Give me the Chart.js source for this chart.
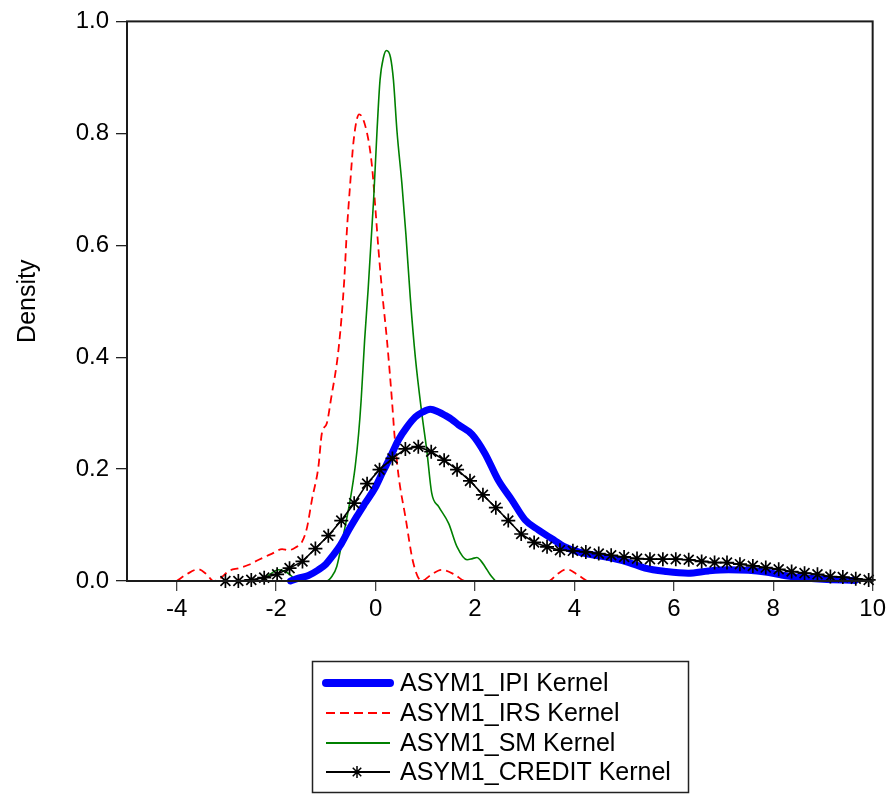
<!DOCTYPE html>
<html>
<head>
<meta charset="utf-8">
<script src="https://cdn.jsdelivr.net/npm/chart.js@4"></script>
<style>
  html, body { margin: 0; padding: 0; background: #fff; }
</style>
</head>
<body>
<canvas id="kernelChart" width="890" height="795"></canvas>
<script>
// kernel density estimates
const ipiX = [-1.71, -1.55, -1.35, -1.15, -1.0, -0.88, -0.7, -0.54, -0.38, -0.21, 0.0, 0.13, 0.3, 0.46, 0.63, 0.8, 0.95, 1.1, 1.27, 1.4, 1.53, 1.67, 1.94, 2.2, 2.47, 2.74, 3.01, 3.28, 3.54, 3.81, 4.08, 4.42, 4.75, 5.1, 5.42, 5.85, 6.29, 6.7, 7.1, 7.5, 7.84, 8.15, 8.45, 9.0, 9.65];
const ipiY = [0.0, 0.005, 0.01, 0.02, 0.03, 0.043, 0.065, 0.091, 0.115, 0.139, 0.168, 0.192, 0.222, 0.252, 0.275, 0.293, 0.302, 0.307, 0.302, 0.296, 0.289, 0.279, 0.262, 0.228, 0.18, 0.145, 0.109, 0.091, 0.076, 0.061, 0.052, 0.046, 0.041, 0.033, 0.023, 0.017, 0.014, 0.018, 0.02, 0.019, 0.016, 0.011, 0.007, 0.003, 0.001];

const irsX = [-4.0, -3.8, -3.57, -3.4, -3.26, -3.12, -2.95, -2.75, -2.55, -2.35, -2.08, -1.88, -1.75, -1.61, -1.48, -1.38, -1.28, -1.15, -1.08, -0.98, -0.9, -0.74, -0.63, -0.58, -0.51, -0.44, -0.33, -0.17, -0.07, 0.0, 0.06, 0.14, 0.23, 0.33, 0.38, 0.46, 0.6, 0.76, 0.93, 1.1, 1.33, 1.6, 1.8, 3.48, 3.65, 3.85, 4.05, 4.25];
const irsY = [0.0, 0.012, 0.021, 0.012, 0.0, 0.005, 0.018, 0.023, 0.029, 0.038, 0.049, 0.057, 0.055, 0.06, 0.07, 0.095, 0.145, 0.204, 0.264, 0.282, 0.323, 0.418, 0.537, 0.621, 0.71, 0.788, 0.834, 0.8, 0.74, 0.662, 0.591, 0.51, 0.43, 0.323, 0.262, 0.19, 0.115, 0.032, 0.0, 0.01, 0.02, 0.011, 0.0, 0.0, 0.012, 0.021, 0.012, 0.0];

const smX = [-2.29, -2.15, -1.95, -1.8, -1.68, -1.61, -0.98, -0.88, -0.78, -0.64, -0.51, -0.41, -0.34, -0.29, -0.22, -0.15, -0.04, 0.03, 0.09, 0.16, 0.22, 0.3, 0.36, 0.43, 0.53, 0.61, 0.7, 0.8, 0.93, 1.03, 1.13, 1.27, 1.47, 1.64, 1.84, 1.95, 2.04, 2.12, 2.2, 2.3, 2.41];
const smY = [0.0, 0.01, 0.02, 0.016, 0.008, 0.0, 0.0, 0.008, 0.026, 0.085, 0.145, 0.204, 0.264, 0.323, 0.43, 0.52, 0.68, 0.805, 0.895, 0.936, 0.948, 0.936, 0.895, 0.805, 0.71, 0.62, 0.505, 0.4, 0.3, 0.234, 0.157, 0.133, 0.103, 0.061, 0.038, 0.04, 0.042, 0.036, 0.026, 0.012, 0.0];

const creditX = [-3.02, -2.76, -2.5, -2.24, -1.98, -1.73, -1.47, -1.21, -0.95, -0.69, -0.43, -0.17, 0.08, 0.34, 0.6, 0.86, 1.12, 1.38, 1.64, 1.9, 2.16, 2.42, 2.67, 2.93, 3.19, 3.45, 3.71, 3.97, 4.23, 4.49, 4.74, 5.0, 5.26, 5.52, 5.78, 6.04, 6.3, 6.56, 6.82, 7.07, 7.33, 7.59, 7.85, 8.11, 8.37, 8.63, 8.89, 9.15, 9.4, 9.66, 9.92];
const creditY = [0.0, 0.0, 0.002, 0.006, 0.012, 0.023, 0.035, 0.058, 0.081, 0.108, 0.139, 0.174, 0.199, 0.219, 0.236, 0.24, 0.231, 0.216, 0.199, 0.179, 0.154, 0.131, 0.108, 0.084, 0.069, 0.061, 0.055, 0.054, 0.052, 0.049, 0.046, 0.043, 0.04, 0.039, 0.039, 0.039, 0.038, 0.035, 0.033, 0.033, 0.03, 0.027, 0.024, 0.021, 0.017, 0.014, 0.012, 0.008, 0.007, 0.004, 0.002];

const xTicks = [-4, -2, 0, 2, 4, 6, 8, 10];
const yTicks = [0, 0.2, 0.4, 0.6, 0.8, 1.0];
const seriesNames = ["ASYM1_IPI Kernel", "ASYM1_IRS Kernel", "ASYM1_SM Kernel", "ASYM1_CREDIT Kernel"];

const FONT = "'Liberation Sans', Arial, Helvetica, sans-serif";

function pairs(xs, ys) {
  return xs.map((x, i) => ({ x: x, y: ys[i] }));
}

// box round the plot area
const frameBox = {
  id: "frameBox",
  afterDraw(chart) {
    const a = chart.chartArea;
    const ctx = chart.ctx;
    ctx.save();
    ctx.strokeStyle = "#1a1a1a";
    ctx.lineWidth = 2;
    ctx.strokeRect(a.left, a.top, a.right - a.left, a.bottom - a.top);
    ctx.restore();
  }
};

// legend in the style of the original (box below the plot)
const boxLegend = {
  id: "boxLegend",
  afterDraw(chart) {
    const ctx = chart.ctx;
    ctx.save();
    ctx.strokeStyle = "#222";
    ctx.lineWidth = 1.5;
    ctx.strokeRect(312.5, 661.5, 376, 131);

    const rows = [683, 713, 743, 772];
    const x0 = 326, x1 = 390;
    chart.data.datasets.forEach((ds, i) => {
      const y = rows[i];
      ctx.save();
      ctx.strokeStyle = ds.borderColor;
      ctx.lineWidth = i === 0 ? 8 : 1.8;
      ctx.lineCap = i === 0 ? "round" : "butt";
      ctx.setLineDash(i === 1 ? [9, 5] : []);
      ctx.beginPath();
      ctx.moveTo(x0, y);
      ctx.lineTo(x1, y);
      ctx.stroke();
      ctx.restore();
      if (i === 3) {
        // asterisk marker
        ctx.save();
        ctx.strokeStyle = "#000";
        ctx.lineWidth = 1.5;
        const cx = 357, r = 6;
        ctx.beginPath();
        for (let k = 0; k < 4; k++) {
          const ang = k * Math.PI / 4;
          ctx.moveTo(cx - r * Math.cos(ang), y - r * Math.sin(ang));
          ctx.lineTo(cx + r * Math.cos(ang), y + r * Math.sin(ang));
        }
        ctx.stroke();
        ctx.restore();
      }
      ctx.fillStyle = "#000";
      ctx.font = "25px " + FONT;
      ctx.textBaseline = "middle";
      ctx.textAlign = "left";
      ctx.fillText(ds.label, 400, y + 1);
    });
    ctx.restore();
  }
};

const ctx = document.getElementById("kernelChart").getContext("2d");

new Chart(ctx, {
  type: "line",
  data: {
    datasets: [
      {
        label: seriesNames[0],
        data: pairs(ipiX, ipiY),
        borderColor: "#0000ff",
        borderWidth: 7,
        pointRadius: 0,
        cubicInterpolationMode: "monotone",
        borderCapStyle: "round",
        borderJoinStyle: "round",
        order: 1
      },
      {
        label: seriesNames[1],
        data: pairs(irsX, irsY),
        borderColor: "#ff0000",
        borderWidth: 1.8,
        borderDash: [8, 5],
        pointRadius: 0,
        cubicInterpolationMode: "monotone",
        order: 3
      },
      {
        label: seriesNames[2],
        data: pairs(smX, smY),
        borderColor: "#008000",
        borderWidth: 1.6,
        pointRadius: 0,
        cubicInterpolationMode: "monotone",
        order: 2
      },
      {
        label: seriesNames[3],
        data: pairs(creditX, creditY),
        borderColor: "#000000",
        backgroundColor: "#000000",
        borderWidth: 1.6,
        pointStyle: "star",
        pointRadius: 7,
        pointBorderWidth: 1.7,
        pointBorderColor: "#000",
        tension: 0,
        order: 0
      }
    ]
  },
  options: {
    responsive: false,
    animation: false,
    devicePixelRatio: 1,
    clip: 8,
    layout: { padding: { top: 21, right: 15, left: 0, bottom: 0 } },
    plugins: {
      legend: { display: false },
      tooltip: { enabled: false }
    },
    scales: {
      x: {
        type: "linear",
        min: -5,
        max: 10,
        afterFit: s => { s.height = 214; },
        afterBuildTicks: s => { s.ticks = xTicks.map(v => ({ value: v })); },
        grid: { drawOnChartArea: false, drawTicks: true, tickLength: 10, color: "#444", lineWidth: 1.3 },
        border: { display: false },
        ticks: { color: "#000", padding: 4, font: { family: FONT, size: 24 }, maxRotation: 0 }
      },
      y: {
        min: 0,
        max: 1,
        afterFit: s => { s.width = 127; },
        afterBuildTicks: s => { s.ticks = yTicks.map(v => ({ value: v })); },
        grid: { drawOnChartArea: false, drawTicks: true, tickLength: 11, color: "#222", lineWidth: 1.3 },
        border: { display: false },
        ticks: {
          color: "#000",
          padding: 7,
          font: { family: FONT, size: 24 },
          callback: v => v.toFixed(1)
        },
        title: {
          display: true,
          text: "Density",
          color: "#000",
          font: { family: FONT, size: 25 },
          padding: { top: 13, bottom: 0 }
        }
      }
    }
  },
  plugins: [frameBox, boxLegend]
});
</script>
</body>
</html>
